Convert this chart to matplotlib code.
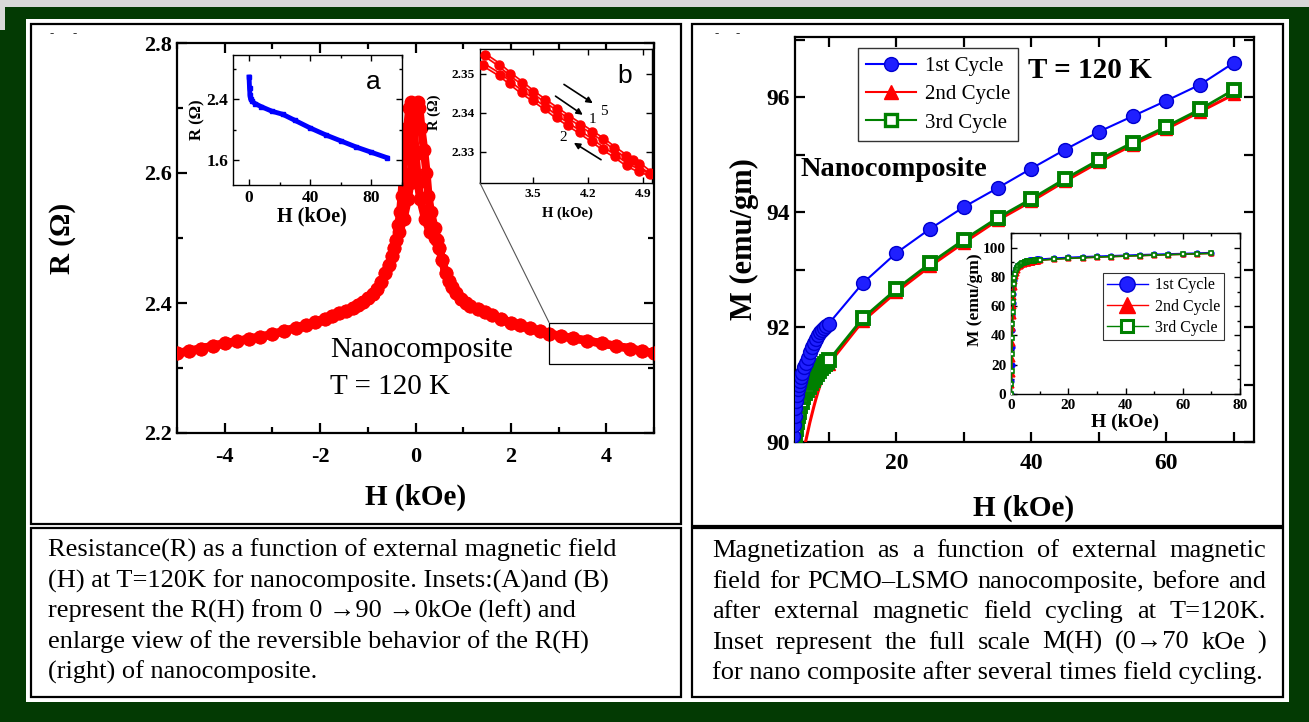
import matplotlib.pyplot as plt
from matplotlib.patches import Rectangle, ConnectionPatch
from matplotlib.lines import Line2D
from matplotlib.ticker import MultipleLocator

plt.rcParams['font.family'] = ['Liberation Serif', 'DejaVu Serif']

W, H = 1309, 722

### R(H) butterfly, main left panel (two field-sweep branches)
h_left_wing = [-5.0, -4.75, -4.5, -4.25, -4.0, -3.75, -3.5, -3.25, -3.0, -2.75, -2.5, -2.3, -2.1, -1.9,
               -1.75, -1.6, -1.45, -1.3, -1.2, -1.1, -1.0, -0.9, -0.8, -0.72, -0.63, -0.56, -0.5, -0.45, -0.4]
r_left_wing = [2.323, 2.326, 2.330, 2.334, 2.338, 2.341, 2.345, 2.348, 2.352, 2.357, 2.362, 2.366, 2.371, 2.376,
               2.380, 2.384, 2.388, 2.393, 2.397, 2.401, 2.407, 2.414, 2.422, 2.432, 2.446, 2.458, 2.472, 2.485, 2.497]
h_right_wing = [0.45, 0.5, 0.56, 0.63, 0.7, 0.77, 0.85, 0.95, 1.05, 1.15, 1.3, 1.45, 1.6, 1.8, 2.0,
                2.2, 2.4, 2.6, 2.8, 3.05, 3.3, 3.6, 3.9, 4.2, 4.5, 4.75, 5.0]
r_right_wing = [2.497, 2.485, 2.466, 2.446, 2.434, 2.425, 2.416, 2.406, 2.400, 2.396, 2.391, 2.386, 2.382, 2.376, 2.370,
                2.366, 2.361, 2.357, 2.353, 2.349, 2.346, 2.342, 2.338, 2.334, 2.330, 2.326, 2.323]
h_peak_a = [-0.36, -0.32, -0.29, -0.26, -0.22, -0.17, -0.13, -0.1, -0.07, -0.04, 0.0, 0.05, 0.1, 0.2, 0.3, 0.4]
r_peak_a = [2.520, 2.540, 2.565, 2.600, 2.635, 2.670, 2.700, 2.710, 2.700, 2.675, 2.630, 2.585, 2.560, 2.530, 2.510, 2.500]
h_peak_b = [0.4, 0.32, 0.27, 0.23, 0.18, 0.12, 0.08, 0.05, 0.02, -0.02, -0.06, -0.11, -0.16, -0.25, -0.35]
r_peak_b = [2.515, 2.540, 2.565, 2.600, 2.635, 2.670, 2.700, 2.710, 2.700, 2.675, 2.630, 2.585, 2.560, 2.530, 2.510]

# inset a: 0 -> 90 kOe sweep
h_ins_a = [0, 0.3, 0.6, 1, 2, 4, 8, 15, 22, 30, 40, 50, 60, 70, 80, 90]
r_ins_a = [2.69, 2.55, 2.45, 2.40, 2.37, 2.34, 2.30, 2.24, 2.20, 2.12, 2.02, 1.93, 1.85, 1.77, 1.70, 1.63]

# inset b: reversible behaviour, two sweeps
h_b_up = [2.89, 3.07, 3.21, 3.36, 3.50, 3.65, 3.80, 3.95, 4.10, 4.25, 4.39, 4.53, 4.68, 4.77, 4.84, 4.99]
r_b_up = [2.3549, 2.3524, 2.3500, 2.3477, 2.3454, 2.3432, 2.3411, 2.3390, 2.3370, 2.3350, 2.3332,
          2.3310, 2.3289, 2.3280, 2.3270, 2.3246]
h_b_dn = [2.87, 3.08, 3.21, 3.36, 3.50, 3.65, 3.80, 3.95, 4.10, 4.25, 4.39, 4.54, 4.69, 4.84, 4.99]
r_b_dn = [2.3524, 2.3498, 2.3477, 2.3453, 2.3434, 2.3413, 2.3390, 2.3370, 2.3350, 2.3329, 2.3308,
          2.3289, 2.3267, 2.3252, 2.3242]
zoom_box = (2.8, 4.97, 2.306, 2.370)

### M(H) cycles, right panel
h_c1 = [0, 0.1, 0.2, 0.3, 0.4, 0.5, 0.6, 0.7, 0.8, 1.0, 1.2, 1.4, 1.7, 2.0, 2.5, 3.0, 3.5, 4.0,
        4.4, 4.7, 4.85, 4.95, 5.05, 5.15, 5.25, 5.4, 5.55, 5.7, 5.9, 6.1, 6.35, 6.6, 6.9, 7.2, 7.5,
        7.8, 8.1, 8.4, 8.7, 9.0, 9.3, 9.6, 10, 15, 20, 25, 30, 35, 40, 45, 50, 55, 60, 65, 70]
m_c1 = [0, 9, 20, 32, 44, 54, 62, 68, 72.5, 78, 81.5, 84, 86, 87.3, 88.4, 89.0, 89.4, 89.7,
        89.9, 90.1, 90.3, 90.45, 90.6, 90.72, 90.82, 90.93, 91.0, 91.07, 91.14, 91.2, 91.3, 91.38, 91.47, 91.56, 91.65,
        91.73, 91.8, 91.86, 91.91, 91.95, 91.99, 92.02, 92.06, 92.76, 93.29, 93.71, 94.09, 94.42, 94.76,
        95.09, 95.40, 95.67, 95.94, 96.22, 96.60]
h_c2 = [0, 0.1, 0.2, 0.3, 0.4, 0.5, 0.6, 0.7, 0.8, 1.0, 1.2, 1.4, 1.7, 2.0, 2.5, 3.0, 3.5, 4.0,
        4.5, 5.0, 5.5, 6.0, 6.3, 6.6, 6.9, 7.2, 7.5, 7.8, 8.1, 8.4, 8.7, 9.0, 9.3, 9.6, 10,
        15, 20, 25, 30, 35, 40, 45, 50, 55, 60, 65, 70]
m_c2 = [0, 6, 14, 24, 35, 45, 53, 60, 66, 73, 77.5, 80.5, 83, 84.8, 86.5, 87.5, 88.2, 88.7,
        89.1, 89.4, 89.62, 89.82, 89.92, 90.02, 90.18, 90.34, 90.48, 90.62, 90.75, 90.87, 90.98, 91.08, 91.17, 91.26, 91.36,
        92.10, 92.61, 93.06, 93.47, 93.86, 94.19, 94.54, 94.87, 95.17, 95.45, 95.75, 96.05]
h_c3 = [0, 0.1, 0.2, 0.3, 0.4, 0.5, 0.6, 0.7, 0.8, 1.0, 1.2, 1.4, 1.7, 2.0, 2.5, 3.0, 3.5, 4.0,
        4.5, 4.8, 5.0, 5.15, 5.3, 5.45, 5.6, 5.8, 6.0, 6.25, 6.5, 6.75, 7.0, 7.3, 7.6, 7.9, 8.2,
        8.5, 8.8, 9.1, 9.4, 9.7, 10, 15, 20, 25, 30, 35, 40, 45, 50, 55, 60, 65, 70]
m_c3 = [0, 7, 16, 27, 38, 48, 56, 63, 68, 75, 79, 82, 84.5, 86, 87.5, 88.4, 89.0, 89.4,
        89.75, 89.95, 90.1, 90.22, 90.34, 90.45, 90.53, 90.62, 90.70, 90.78, 90.85, 90.91, 90.96, 91.02, 91.08, 91.13, 91.18,
        91.23, 91.28, 91.32, 91.36, 91.39, 91.42, 92.15, 92.66, 93.11, 93.52, 93.90, 94.23, 94.58, 94.91,
        95.21, 95.49, 95.79, 96.13]
cycle_labels = ['1st Cycle', '2nd Cycle', '3rd Cycle']

caption_left = ['Resistance(R) as a function of external magnetic field',
                '(H) at T=120K for nanocomposite. Insets:(A)and (B)',
                'represent the R(H) from 0 \u219290 \u21920kOe (left) and',
                'enlarge view of the reversible behavior of the R(H)',
                '(right) of nanocomposite.']
caption_right = ['Magnetization as a function of external magnetic',
                 'field for PCMO\u2013LSMO nanocomposite, before and',
                 'after external magnetic field cycling at T=120K.',
                 'Inset  represent the full scale M(H) (0\u219270 kOe )',
                 'for nano composite after several times field cycling.']
caption_base = [557, 588, 618, 649, 679]


def box(x0, y0, x1, y1):
    return [x0 / W, 1 - y1 / H, (x1 - x0) / W, (y1 - y0) / H]


def frame(x0, y0, x1, y1, **kw):
    fig.add_artist(Rectangle((x0 / W, 1 - y1 / H), (x1 - x0) / W, (y1 - y0) / H,
                             transform=fig.transFigure, **kw))


def style(ax, size, major=5, minor=3, width=1.4):
    ax.tick_params(which='both', direction='in', top=True, right=True, width=width)
    ax.tick_params(which='major', length=major, labelsize=size)
    ax.tick_params(which='minor', length=minor)
    for lab in ax.get_xticklabels() + ax.get_yticklabels():
        lab.set_fontweight('bold')
    for s in ax.spines.values():
        s.set_linewidth(width)


fig = plt.figure(figsize=(W / 100, H / 100), dpi=100, facecolor='#033a03')

frame(0, 0, W, 7, fc='#d8d8d8', ec='none', zorder=-10)
frame(0, 0, 5, 30, fc='#d8d8d8', ec='none', zorder=-10)
frame(26, 19, 1289, 702, fc='white', ec='none', zorder=-10)
for b in [(31, 24, 681, 524), (31, 528, 681, 697), (692, 24, 1283, 526), (692, 528, 1283, 697)]:
    frame(*b, fc='none', ec='black', lw=1.6, zorder=-5)
for x in [52, 75, 717, 738]:
    fig.text(x / W, 1 - 33 / H, '-', fontsize=9, fontweight='bold', ha='center', va='center')

### left main panel
ax = fig.add_axes(box(177, 43, 654, 433))
ax.patch.set_alpha(0)
branch_a = (h_left_wing + h_peak_a + h_right_wing, r_left_wing + r_peak_a + r_right_wing)
branch_b = (h_right_wing[::-1] + h_peak_b + h_left_wing[::-1], r_right_wing[::-1] + r_peak_b + r_left_wing[::-1])
for hh, rr in [branch_a, branch_b]:
    ax.plot(hh, rr, color='red', lw=6, marker='o', ms=9, mec='red', mfc='red', zorder=3)
ax.set_xlim(-5, 5)
ax.set_ylim(2.2, 2.8)
ax.xaxis.set_minor_locator(MultipleLocator(1))
ax.yaxis.set_minor_locator(MultipleLocator(0.1))
ax.set_xticks([-4, -2, 0, 2, 4])
ax.set_xticklabels(['-4', '-2', '0', '2', '4'])
ax.set_yticks([2.2, 2.4, 2.6, 2.8])
ax.set_yticklabels(['2.2', '2.4', '2.6', '2.8'])
style(ax, 16, major=7, minor=4, width=1.6)
ax.tick_params(axis='x', pad=10)
ax.set_xlabel('H (kOe)', fontsize=21, fontweight='bold', va='center')
ax.xaxis.set_label_coords(0.5, -0.164)
ax.set_ylabel('R (\u03a9)', fontsize=21, fontweight='bold', va='center')
ax.yaxis.set_label_coords(-0.241, 0.5)
ax.text(0.321, 0.195, 'Nanocomposite', transform=ax.transAxes, fontsize=21, va='baseline')
ax.text(0.321, 0.100, 'T = 120 K', transform=ax.transAxes, fontsize=21, va='baseline')
ax.add_patch(Rectangle((zoom_box[0], zoom_box[2]), zoom_box[1] - zoom_box[0], zoom_box[3] - zoom_box[2],
                       fill=False, ec='black', lw=0.9, zorder=4))

# inset a
axa = fig.add_axes(box(233, 55, 402, 185))
axa.plot(h_ins_a, r_ins_a, color='blue', lw=3.5, marker='s', ms=3, zorder=3)
axa.set_xlim(-10.5, 100)
axa.set_ylim(1.27, 2.98)
axa.set_xticks([0, 40, 80])
axa.xaxis.set_minor_locator(MultipleLocator(20))
axa.set_yticks([1.6, 2.4])
axa.yaxis.set_minor_locator(MultipleLocator(0.4))
style(axa, 12.5, major=4, minor=2.5, width=1.0)
axa.set_xlabel('H (kOe)', fontsize=14.5, fontweight='bold', va='center')
axa.xaxis.set_label_coords(0.467, -0.246)
axa.set_ylabel('R (\u03a9)', fontsize=12, fontweight='bold', va='center')
axa.yaxis.set_label_coords(-0.213, 0.5)
axa.text(0.83, 0.79, 'a', transform=axa.transAxes, fontsize=19, family='Liberation Sans',
         ha='center', va='center')

# inset b
axb = fig.add_axes(box(480, 49, 652, 183))
for hh, rr in [(h_b_up, r_b_up), (h_b_dn, r_b_dn)]:
    axb.plot(hh, rr, color='red', lw=3.2, zorder=2)
    axb.plot(hh, rr, color='#ffd0d0', lw=0.8, zorder=2)
    axb.plot(hh, rr, ls='none', marker='o', ms=6.5, color='red', zorder=3)
axb.set_xlim(2.83, 5.01)
axb.set_ylim(2.322, 2.3564)
axb.set_xticks([3.5, 4.2, 4.9])
axb.set_yticks([2.33, 2.34, 2.35])
axb.minorticks_off()
style(axb, 9.5, major=4, minor=2, width=1.0)
axb.set_xlabel('H (kOe)', fontsize=10.5, fontweight='bold', va='center')
axb.xaxis.set_label_coords(0.506, -0.224)
axb.set_ylabel('R (\u03a9)', fontsize=10.5, fontweight='bold', va='center')
axb.yaxis.set_label_coords(-0.267, 0.53)
axb.text(0.84, 0.80, 'b', transform=axb.transAxes, fontsize=19, family='Liberation Sans',
         ha='center', va='center')
arrows = [((3.865, 2.3477), (4.289, 2.3421), '5', (4.40, 2.3404)),
          ((3.758, 2.3447), (4.162, 2.3391), '1', (4.25, 2.3383)),
          ((4.394, 2.3276), (3.99, 2.3327), '2', (3.88, 2.3336))]
for start, end, lab, pos in arrows:
    axb.annotate('', xy=end, xytext=start,
                 arrowprops=dict(arrowstyle='-|>', color='black', lw=1.2, mutation_scale=9))
    axb.text(pos[0], pos[1], lab, fontsize=11, ha='center', va='center')

con = ConnectionPatch(xyA=(zoom_box[0], zoom_box[3]), coordsA=ax.transData,
                      xyB=(0, 0), coordsB=axb.transAxes, color='#555555', lw=0.8)
fig.add_artist(con)

### right main panel
axm = fig.add_axes(box(795, 37, 1254, 442))
axm.patch.set_alpha(0)
sparse_c2 = [i for i, h in enumerate(h_c2) if h >= 10]
axm.plot(h_c2, m_c2, color='red', lw=2.2, marker='^', ms=8, markevery=sparse_c2, zorder=3)
axm.plot(h_c3, m_c3, color='green', lw=2, marker='s', ms=8, mfc='white', mec='green', mew=2.8, zorder=4)
axm.plot(h_c1, m_c1, color='blue', lw=1.5, marker='o', ms=10, mfc='#1f1fff', mec='#0000d0', zorder=5)
axm.set_xlim(5, 73)
axm.set_ylim(90, 97.05)
axm.set_xticks([20, 40, 60])
axm.xaxis.set_minor_locator(MultipleLocator(10))
axm.set_yticks([90, 92, 94, 96])
axm.yaxis.set_minor_locator(MultipleLocator(1))
style(axm, 17, major=7, minor=7, width=1.6)
axm.tick_params(axis='x', pad=8)
axm.set_xlabel('H (kOe)', fontsize=21, fontweight='bold', va='center')
axm.xaxis.set_label_coords(0.497, -0.163)
axm.set_ylabel('M (emu/gm)', fontsize=22, fontweight='bold', va='center')
axm.yaxis.set_label_coords(-0.11, 0.5)
axm.text(0.508, 0.899, 'T = 120 K', transform=axm.transAxes, fontsize=21, fontweight='bold', va='baseline')
axm.text(0.011, 0.657, 'Nanocomposite', transform=axm.transAxes, fontsize=20.5, fontweight='bold',
         va='baseline')


def handles(ms, lw, mew):
    return [Line2D([], [], color='blue', lw=lw, marker='o', ms=ms, mfc='#1f1fff', mec='#0000d0'),
            Line2D([], [], color='red', lw=lw, marker='^', ms=ms),
            Line2D([], [], color='green', lw=lw, marker='s', ms=ms * 0.85, mfc='white', mec='green', mew=mew)]


leg = axm.legend(handles(10, 1.5, 2.4), cycle_labels, loc='upper left', bbox_to_anchor=(0.137, 0.973),
                 borderaxespad=0, fontsize=15, frameon=True, fancybox=False, edgecolor='black',
                 handlelength=2.4, labelspacing=0.42, borderpad=0.4, handletextpad=0.4)
leg.get_frame().set_linewidth(1.0)

# inset full scale
axi = fig.add_axes(box(1011, 233, 1240, 394))
axi.plot(h_c2, m_c2, color='red', lw=1.2, marker='^', ms=3.5, zorder=3)
axi.plot(h_c3, m_c3, color='green', lw=1.2, marker='s', ms=3.5, mfc='white', mec='green', mew=1.2, zorder=4)
axi.plot(h_c1, m_c1, color='blue', lw=1.2, marker='o', ms=3.5, zorder=2)
axi.set_xlim(0, 80)
axi.set_ylim(0, 110)
axi.set_xticks([0, 20, 40, 60, 80])
axi.xaxis.set_minor_locator(MultipleLocator(10))
axi.set_yticks([0, 20, 40, 60, 80, 100])
axi.yaxis.set_minor_locator(MultipleLocator(10))
style(axi, 11, major=4, minor=2.5, width=1.0)
axi.set_xlabel('H (kOe)', fontsize=14, fontweight='bold', va='center')
axi.xaxis.set_label_coords(0.498, -0.174)
axi.set_ylabel('M (emu/gm)', fontsize=12.5, fontweight='bold', va='center')
axi.yaxis.set_label_coords(-0.157, 0.584)
leg2 = axi.legend(handles(11, 1.0, 2.2), cycle_labels, loc='upper left', bbox_to_anchor=(0.40, 0.75),
                  borderaxespad=0, fontsize=11.5, frameon=True, fancybox=False, edgecolor='black',
                  handlelength=2.6, labelspacing=0.33, borderpad=0.25, handletextpad=0.4)
leg2.get_frame().set_linewidth(0.8)

### captions
for line, y in zip(caption_left, caption_base):
    fig.text(48 / W, 1 - y / H, line, fontsize=19, va='baseline')

renderer = fig.canvas.get_renderer()
x0, x1 = 712, 1266
for i, (line, y) in enumerate(zip(caption_right, caption_base)):
    if i == len(caption_right) - 1:
        fig.text(x0 / W, 1 - y / H, line, fontsize=19, va='baseline')
        continue
    words = line.split()
    texts = [fig.text(0, 1 - y / H, w, fontsize=19, va='baseline') for w in words]
    widths = [t.get_window_extent(renderer).width for t in texts]
    gap = (x1 - x0 - sum(widths)) / (len(words) - 1)
    x = x0
    for t, w in zip(texts, widths):
        t.set_x(x / W)
        x += w + gap

fig.savefig('out.png', dpi=100, facecolor=fig.get_facecolor())
